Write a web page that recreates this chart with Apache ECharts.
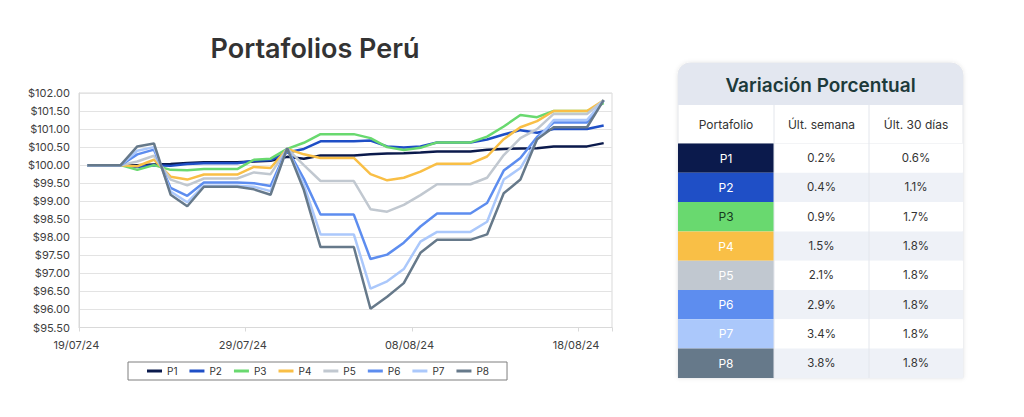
<!DOCTYPE html>
<html><head><meta charset="utf-8">
<script src="https://cdn.jsdelivr.net/npm/echarts@6/dist/echarts.min.js"></script>
<style>html,body{margin:0;padding:0;background:#fff}#c{width:1024px;height:417px}</style>
</head><body><div id="c"></div>
<script>
// ---- data ----
const dates = ['19/07/24','20/07/24','21/07/24','22/07/24','23/07/24','24/07/24','25/07/24','26/07/24','27/07/24','28/07/24',
  '29/07/24','30/07/24','31/07/24','01/08/24','02/08/24','03/08/24','04/08/24','05/08/24','06/08/24','07/08/24',
  '08/08/24','09/08/24','10/08/24','11/08/24','12/08/24','13/08/24','14/08/24','15/08/24','16/08/24','17/08/24',
  '18/08/24','19/08/24'];
const p1 = [100,100,100,100.00,100.02,100.03,100.06,100.08,100.08,100.08,100.10,100.12,100.23,100.18,100.27,100.27,100.27,100.30,100.32,100.33,100.35,100.38,100.38,100.38,100.43,100.45,100.46,100.47,100.52,100.52,100.52,100.61];
const p2 = [100,100,100,99.95,100.00,99.98,100.03,100.05,100.05,100.05,100.12,100.14,100.35,100.45,100.66,100.66,100.66,100.68,100.52,100.49,100.52,100.63,100.63,100.63,100.71,100.85,100.97,100.90,101.00,101.00,101.00,101.10];
const p3 = [100,100,100,99.87,100.00,99.87,99.86,99.89,99.89,99.89,100.15,100.18,100.45,100.62,100.86,100.86,100.86,100.75,100.50,100.42,100.48,100.63,100.63,100.63,100.79,101.07,101.39,101.33,101.50,101.50,101.50,101.72];
const p4 = [100,100,100,99.97,100.15,99.68,99.60,99.74,99.74,99.74,99.95,99.92,100.45,100.30,100.20,100.20,100.20,99.75,99.58,99.65,99.82,100.04,100.04,100.04,100.24,100.72,101.05,101.22,101.50,101.50,101.50,101.80];
const p5 = [100,100,100,100.10,100.26,99.60,99.44,99.63,99.63,99.63,99.80,99.75,100.46,100.00,99.56,99.56,99.56,98.78,98.71,98.90,99.17,99.47,99.47,99.47,99.65,100.28,100.75,101.00,101.42,101.42,101.42,101.80];
const p6 = [100,100,100,100.30,100.43,99.37,99.15,99.52,99.52,99.52,99.50,99.42,100.46,99.62,98.63,98.63,98.63,97.40,97.52,97.85,98.30,98.66,98.66,98.66,98.95,99.85,100.20,100.78,101.18,101.18,101.18,101.80];
const p7 = [100,100,100,100.40,100.50,99.27,98.97,99.43,99.43,99.43,99.40,99.28,100.46,99.45,98.08,98.08,98.08,96.58,96.78,97.12,97.88,98.15,98.15,98.15,98.43,99.60,99.92,100.70,101.25,101.25,101.25,101.80];
const p8 = [100,100,100,100.52,100.60,99.18,98.86,99.40,99.40,99.40,99.33,99.18,100.47,99.31,97.73,97.73,97.73,96.02,96.35,96.73,97.57,97.93,97.93,97.93,98.08,99.22,99.60,100.72,101.05,101.05,101.05,101.80];
const seriesNames = ['P1','P2','P3','P4','P5','P6','P7','P8'];
const seriesColors = ['#0b1a4c','#1f4fc6','#69d96f','#f9bf46','#c1c8d0','#5d8def','#abc8fb','#66798a'];
const weekChange = ['0.2%','0.4%','0.9%','1.5%','2.1%','2.9%','3.4%','3.8%'];
const monthChange = ['0.6%','1.1%','1.7%','1.8%','1.8%','1.8%','1.8%','1.8%'];
const tableHeaders = ['Portafolio','Últ. semana','Últ. 30 días'];
const tableTitle = 'Variación Porcentual';
const chartTitle = 'Portafolios Perú';
const nameTextColors = ['#ffffff','#ffffff','#163a20','#ffffff','#ffffff','#ffffff','#ffffff','#ffffff'];

const allSeries = [p1,p2,p3,p4,p5,p6,p7,p8];
const FONT = 'Inter, "Noto Sans", sans-serif';

// ---- table graphic ----
const tX = 678, tW = 285, tTop = 63, hdrH = 42, colHdrH = 38.5, rowH = 29.3;
const colX = [678, 774, 869, 963];
const rowsTop = tTop + hdrH + colHdrH;
const tBottom = rowsTop + rowH * seriesNames.length;
const g = [];
g.push({type:'rect', shape:{x:tX, y:tTop, width:tW, height:tBottom - tTop, r:[12,12,0,0]},
  style:{fill:'#ffffff', stroke:'#e4e6ea', lineWidth:1, shadowBlur:4, shadowColor:'rgba(0,0,0,0.10)'}});
g.push({type:'rect', shape:{x:tX, y:tTop, width:tW, height:hdrH, r:[12,12,0,0]}, style:{fill:'#e3e7f0'}});
g.push({type:'text', x:(tX + tX + tW)/2, y:tTop + hdrH/2 + 1,
  style:{text:tableTitle, fill:'#1d3a3a', font:'600 19px ' + FONT, align:'center', verticalAlign:'middle'}});
for (let c = 0; c < 3; c++) {
  g.push({type:'text', x:(colX[c] + colX[c+1])/2, y:tTop + hdrH + colHdrH/2,
    style:{text:tableHeaders[c], fill:'#333333', font:'12px ' + FONT, align:'center', verticalAlign:'middle'}});
}
g.push({type:'line', shape:{x1:tX, y1:rowsTop, x2:tX + tW, y2:rowsTop}, style:{stroke:'#e6e8ec', lineWidth:1}});
seriesNames.forEach((n, i) => {
  const y = rowsTop + i * rowH;
  g.push({type:'rect', shape:{x:colX[1], y:y, width:colX[3] - colX[1], height:rowH}, style:{fill: i % 2 ? '#eef1f7' : '#ffffff'}});
  g.push({type:'rect', shape:{x:colX[0], y:y, width:colX[1] - colX[0], height:rowH}, style:{fill: seriesColors[i]}});
  g.push({type:'text', x:(colX[0] + colX[1])/2, y:y + rowH/2,
    style:{text:n, fill:nameTextColors[i], font:'12px ' + FONT, align:'center', verticalAlign:'middle'}});
  g.push({type:'text', x:(colX[1] + colX[2])/2, y:y + rowH/2,
    style:{text:weekChange[i], fill:'#333333', font:'11.5px ' + FONT, align:'center', verticalAlign:'middle'}});
  g.push({type:'text', x:(colX[2] + colX[3])/2, y:y + rowH/2,
    style:{text:monthChange[i], fill:'#333333', font:'11.5px ' + FONT, align:'center', verticalAlign:'middle'}});
});
[colX[1], colX[2]].forEach(x => {
  g.push({type:'line', shape:{x1:x, y1:tTop + hdrH, x2:x, y2:tBottom}, style:{stroke:'#e3e6ec', lineWidth:1}});
});

const chart = echarts.init(document.getElementById('c'), null, {renderer:'svg'});
chart.setOption({
  animation:false,
  backgroundColor:'#ffffff',
  textStyle:{fontFamily:FONT},
  title:{text:chartTitle, left:315, top:35, textAlign:'center', padding:0,
    textStyle:{fontFamily:FONT, fontSize:27, fontWeight:600, color:'#333333'}},
  grid:{left:79, right:412, top:93, bottom:89.5, show:true, borderColor:'#d9d9d9', borderWidth:1},
  legend:{data:seriesNames, left:128, top:362, icon:'rect', itemWidth:15, itemHeight:3, itemGap:12,
    padding:[4,18,4,19], borderColor:'#7f7f7f', borderWidth:1,
    textStyle:{fontFamily:FONT, fontSize:10, color:'#333333'}},
  xAxis:{type:'category', data:dates, boundaryGap:true,
    axisLine:{lineStyle:{color:'#d9d9d9'}},
    axisTick:{show:true, interval:9, length:4, lineStyle:{color:'#d9d9d9'}},
    axisLabel:{interval:9, margin:12, fontSize:11, color:'#404040', fontFamily:FONT, padding:[0,22,0,0]}},
  yAxis:{type:'value', min:95.5, max:102, interval:0.5,
    axisLine:{show:true, lineStyle:{color:'#d9d9d9'}},
    axisTick:{show:false},
    splitLine:{lineStyle:{color:'#e3e3e3'}},
    axisLabel:{margin:9, fontSize:11, color:'#404040', fontFamily:FONT, formatter:v => '$' + v.toFixed(2)}},
  series: allSeries.map((d, i) => ({
    name:seriesNames[i], type:'line', data:d, showSymbol:false, symbol:'none',
    lineStyle:{width:2.5, color:seriesColors[i]}, itemStyle:{color:seriesColors[i]},
    emphasis:{disabled:true}
  })),
  graphic:g
});
</script></body></html>
